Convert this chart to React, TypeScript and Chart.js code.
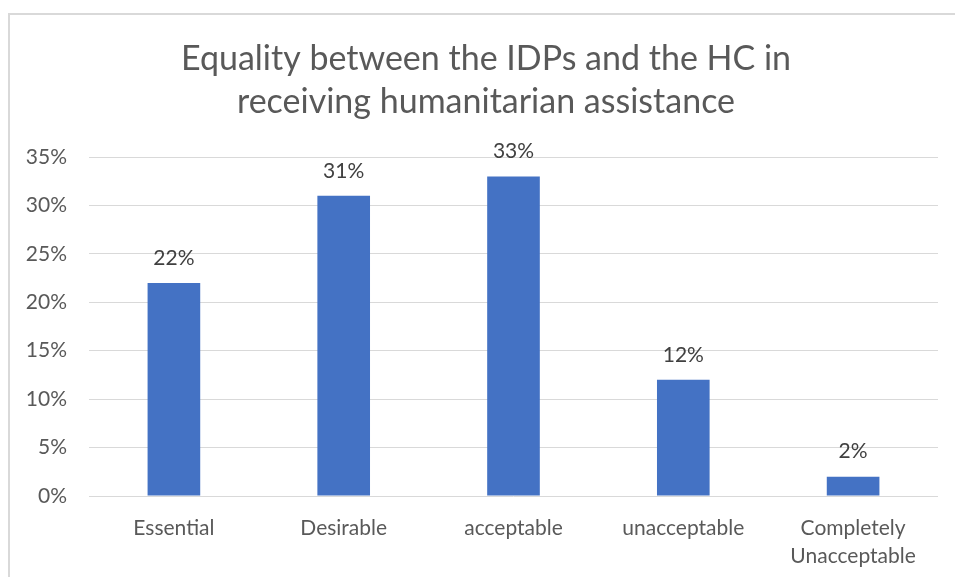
import { useEffect, useRef } from "react";
import { Chart, registerables } from "chart.js";

Chart.register(...registerables);

// Survey answer categories (multi-line where the label wraps)
const categories: (string | string[])[] = [
  "Essential",
  "Desirable",
  "acceptable",
  "unacceptable",
  ["Completely", "Unacceptable"],
];

// Share of respondents per answer, in percent
const shares = [22, 31, 33, 12, 2];

const titleLines = [
  "Equality between the IDPs and the HC in",
  "receiving humanitarian assistance",
];

const yMax = 35;
const yStep = 5;

const FONT = "Lato, 'Open Sans', sans-serif";

// Writes each bar's percentage just above the bar
const valueLabels = {
  id: "valueLabels",
  afterDatasetsDraw(chart: Chart) {
    const { ctx } = chart;
    const meta = chart.getDatasetMeta(0);
    const data = chart.data.datasets[0].data as number[];
    ctx.save();
    ctx.font = `21px ${FONT}`;
    ctx.fillStyle = "#404040";
    ctx.textAlign = "center";
    ctx.textBaseline = "middle";
    meta.data.forEach((bar: any, i: number) => {
      ctx.fillText(`${data[i]}%`, bar.x, bar.y - 25);
    });
    ctx.restore();
  },
};

export default function App() {
  const canvasRef = useRef<HTMLCanvasElement | null>(null);

  useEffect(() => {
    if (!canvasRef.current) return;
    const chart = new Chart(canvasRef.current, {
      type: "bar",
      data: {
        labels: categories,
        datasets: [
          {
            data: shares,
            backgroundColor: "#4472C4",
            barPercentage: 0.62,
            categoryPercentage: 0.5,
          },
        ],
      },
      options: {
        animation: false,
        responsive: false,
        maintainAspectRatio: false,
        layout: { padding: { left: 0, right: 0, top: 0, bottom: 0 } },
        plugins: {
          legend: { display: false },
          tooltip: { enabled: false },
          title: {
            display: true,
            text: titleLines,
            color: "#595959",
            font: { family: FONT, size: 34, weight: "normal", lineHeight: 1.265 },
            padding: { top: 23, bottom: 33 },
          },
        },
        scales: {
          x: {
            grid: { display: false },
            border: { display: false },
            ticks: {
              color: "#595959",
              font: { family: FONT, size: 21, lineHeight: 1.33 },
              padding: 10,
              maxRotation: 0,
              autoSkip: false,
            },
            afterFit(scale: any) {
              scale.height = 84;
            },
          },
          y: {
            min: 0,
            max: yMax,
            grid: { color: "#d9d9d9", drawTicks: false, lineWidth: 1 },
            border: { display: false },
            ticks: {
              stepSize: yStep,
              color: "#595959",
              font: { family: FONT, size: 21 },
              padding: 22,
              callback: (v: any) => `${v}%`,
            },
            afterFit(scale: any) {
              scale.width = 79;
            },
          },
          yRight: {
            position: "right",
            display: true,
            grid: { display: false },
            border: { display: false },
            ticks: { display: false },
            afterFit(scale: any) {
              scale.width = 24;
            },
          },
        },
      },
      plugins: [valueLabels],
    });
    return () => chart.destroy();
  }, []);

  return (
    <div
      style={{
        position: "absolute",
        left: 8,
        top: 13,
        width: 960,
        height: 580,
        border: "2px solid #d9d9d9",
        borderRight: "none",
        borderBottom: "none",
        background: "#fff",
      }}
    >
      <canvas ref={canvasRef} width={952} height={565} style={{ display: "block" }} />
    </div>
  );
}
